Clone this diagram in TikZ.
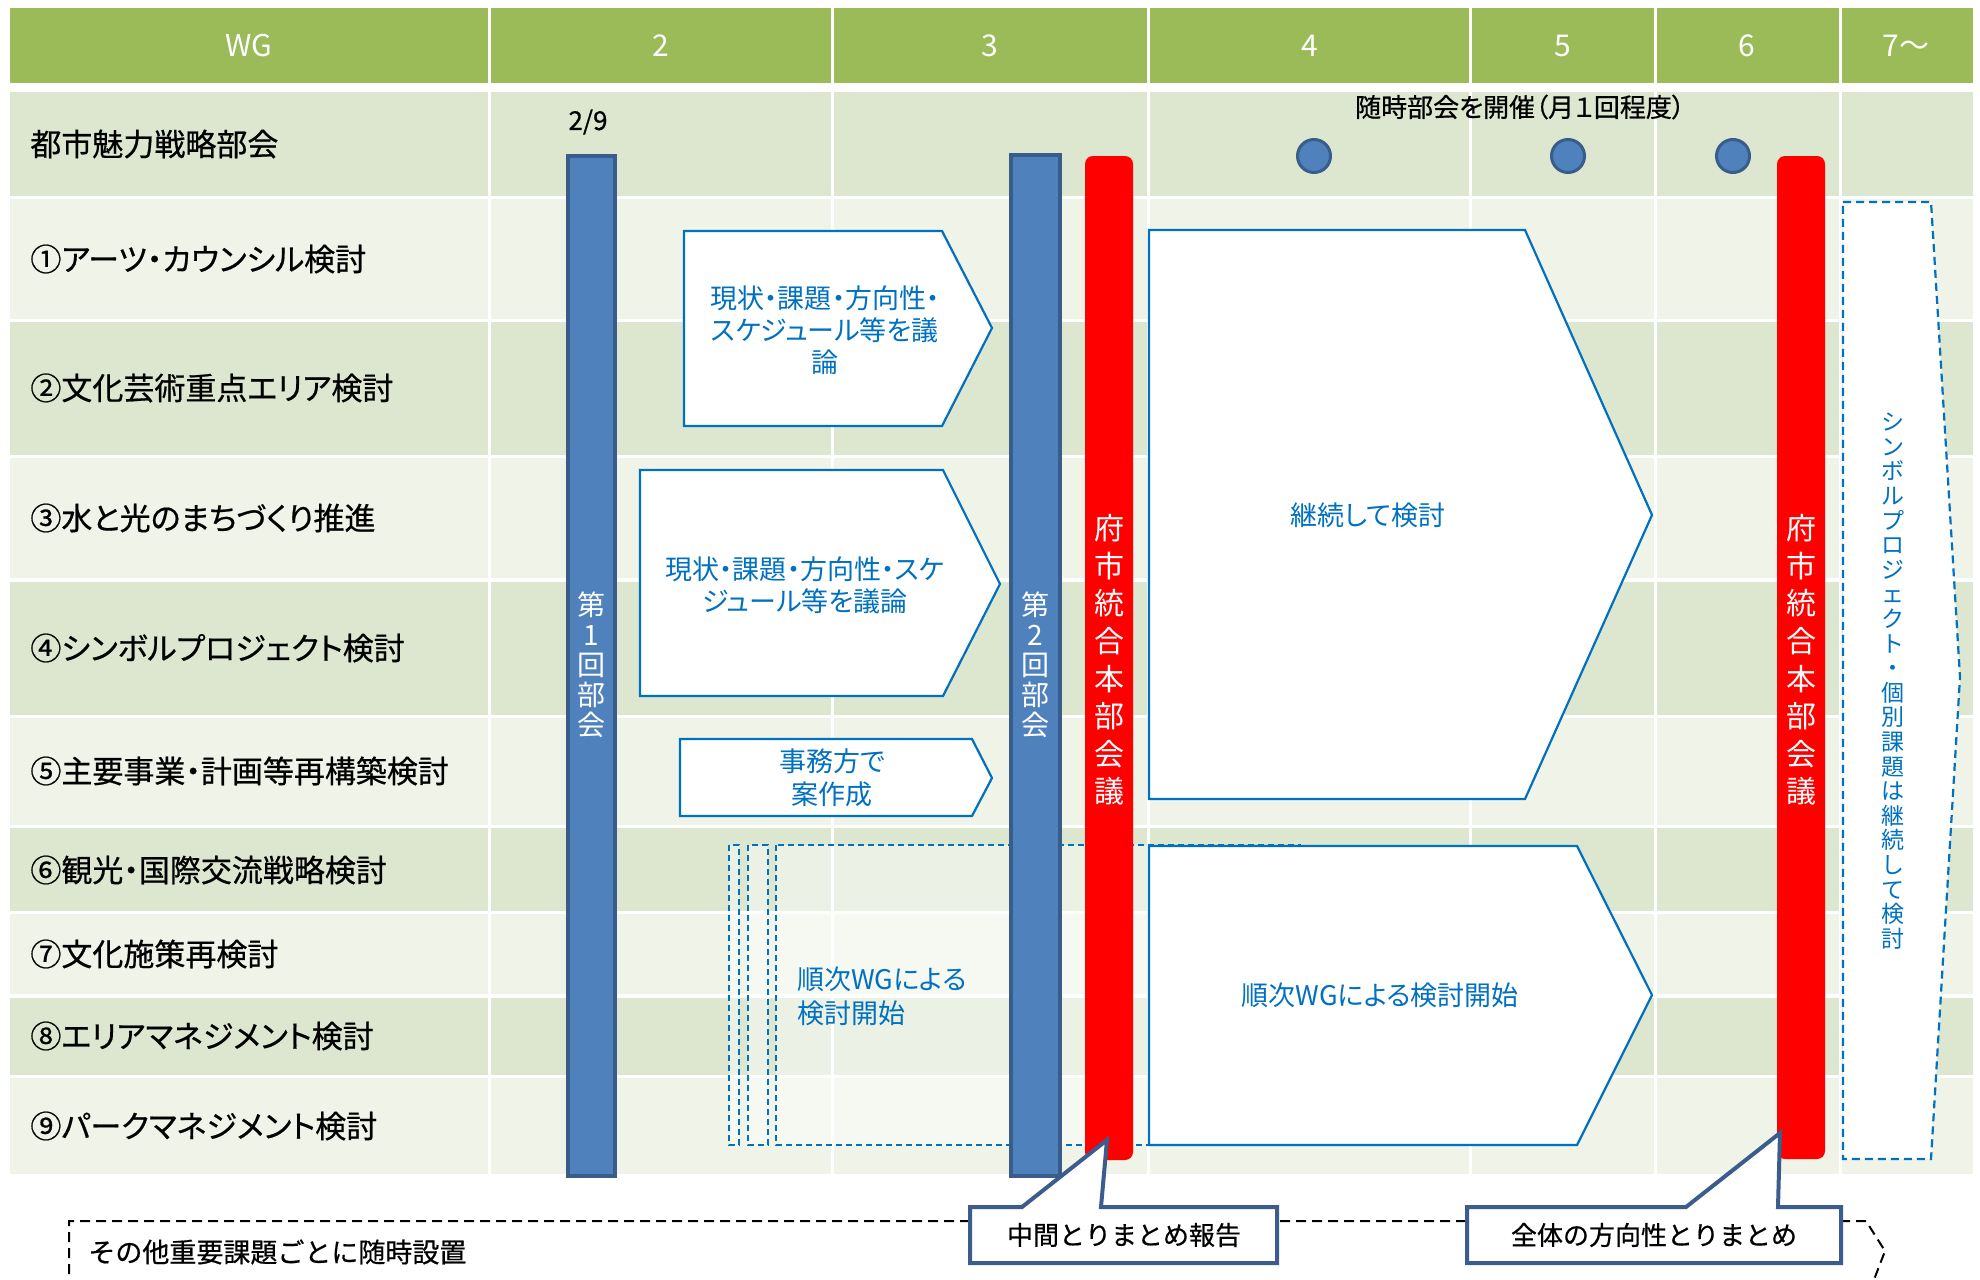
\documentclass[tikz,border=0pt]{standalone}
\usepackage{fontspec}
\setmainfont{Noto Sans CJK JP}
\newfontfamily\jp{Noto Sans CJK JP}
\newfontfamily\jpp[RawFeature=+palt]{Noto Sans CJK JP}
\newfontfamily\jpb[RawFeature=+palt,FakeBold=0.6]{Noto Sans CJK JP}
\newfontfamily\jpbn[FakeBold=0.6]{Noto Sans CJK JP}
\definecolor{hdrgreen}{HTML}{9BBB59}
\definecolor{rowdark}{RGB}{221,231,208}
\definecolor{rowlight}{RGB}{239,243,232}
\definecolor{barfill}{HTML}{4F81BD}
\definecolor{barline}{HTML}{385D8A}
\definecolor{arrowblue}{HTML}{0070C0}
\definecolor{callline}{HTML}{3B5C8C}
\tikzset{
  hdr/.style={text=white, inner sep=0pt, font={\jp\fontsize{15}{18}\selectfont}},
  rowlbl/.style={anchor=west, inner sep=0pt, text=black, font={\jpb\fontsize{15.5}{18}\selectfont}},
  small/.style={inner sep=0pt, text=black, font={\jpb\fontsize{13}{16}\selectfont}},
  chev/.style={draw=arrowblue, fill=white, line width=1.1pt, line join=miter},
  atext/.style={inner sep=0pt, text=arrowblue, align=center, font={\jpp\fontsize{13.5}{16}\selectfont\lineskiplimit=-8pt}},
  wgdash/.style={draw=arrowblue, dash pattern=on 3pt off 2pt, line width=1.1pt, fill=white, fill opacity=0.45},
  fdash/.style={draw=arrowblue, dash pattern=on 4pt off 2.5pt, line width=1.1pt, fill=white},
  bluebar/.style={draw=barline, fill=barfill, line width=2pt},
  redbar/.style={fill=red, rounded corners=4pt},
  vtext/.style={inner sep=0pt, text=white, align=center},
  dotc/.style={circle, draw=barline, fill=barfill, line width=1.5pt, minimum size=16.5pt, inner sep=0pt},
  callout/.style={draw=callline, fill=white, line width=2pt, line join=miter},
  ctext/.style={inner sep=0pt, text=black, font={\jpbn\fontsize{13}{16}\selectfont}},
  otherdash/.style={draw=black, dash pattern=on 5pt off 3pt, line width=1pt}
}
\begin{document}
\begin{tikzpicture}[x=0.5pt,y=-0.5pt]
\useasboundingbox (0,0) rectangle (1980,1279);
% table background
\fill[hdrgreen] (10,8) rectangle (1973,83);
\foreach \yT/\yB/\cC in {92/196/rowdark, 199/319/rowlight, 322/455/rowdark, 458/578/rowlight, 582/715/rowdark, 718/825/rowlight, 828/911/rowdark, 914/994/rowlight, 998/1075/rowdark, 1078/1174/rowlight}
  \fill[\cC] (10,\yT) rectangle (1973,\yB);
\foreach \xx in {489.5,832.5,1148.5,1470.5,1655.5,1840.5}
  \draw[white, line width=1.5pt] (\xx,4) -- (\xx,1176);
% header labels
\node[hdr] (h0) at (249,46) {WG};
\node[hdr] (h2) at (661,46) {2};
\node[hdr] (h3) at (990,46) {3};
\node[hdr] (h4) at (1310,46) {4};
\node[hdr] (h5) at (1563,46) {5};
\node[hdr] (h6) at (1747,46) {6};
\node[hdr] (h7) at (1906,46) {7～};
% row labels
\node[rowlbl] (l0) at (30,144) {都市魅力戦略部会};
\node[rowlbl] (l1) at (30,259) {①アーツ・カウンシル検討};
\node[rowlbl] (l2) at (30,388) {②文化芸術重点エリア検討};
\node[rowlbl] (l3) at (30,518) {③水と光のまちづくり推進};
\node[rowlbl] (l4) at (30,648) {④シンボルプロジェクト検討};
\node[rowlbl] (l5) at (30,771) {⑤主要事業・計画等再構築検討};
\node[rowlbl] (l6) at (30,870) {⑥観光・国際交流戦略検討};
\node[rowlbl] (l7) at (30,954) {⑦文化施策再検討};
\node[rowlbl] (l8) at (30,1036) {⑧エリアマネジメント検討};
\node[rowlbl] (l9) at (30,1126) {⑨パークマネジメント検討};
% top notes
\node[small] (d29) at (588,122) {2/9};
\node[small] (zuiji) at (1520,107) {随時部会を開催（月１回程度）};
% dashed WG boxes
\filldraw[wgdash] (729,845) rectangle (739,1145);
\filldraw[wgdash] (748,845) rectangle (768,1145);
\filldraw[wgdash] (776,845) rectangle (1300,1145);
\node[atext, align=left, anchor=west, font={\jpp\fontsize{13.5}{17}\selectfont}] (wgt) at (797,996) {順次WGによる\\検討開始};
% chevron arrows
\draw[chev] (684,231) -- (942,231) -- (992,328) -- (942,426) -- (684,426) -- cycle;
\node[atext] (ta) at (825,330) {現状・課題・方向性・\\スケジュール等を議\\論};
\draw[chev] (640,470) -- (943,470) -- (1000,584) -- (943,696) -- (640,696) -- cycle;
\node[atext] (tb) at (805,585) {現状・課題・方向性・スケ\\ジュール等を議論};
\draw[chev] (680,739) -- (972,739) -- (992,778) -- (972,816) -- (680,816) -- cycle;
\node[atext, font={\jpp\fontsize{13.5}{16.5}\selectfont}] (tc) at (832,778) {事務方で\\案作成};
\draw[chev] (1149,230) -- (1525,230) -- (1652,515) -- (1525,799) -- (1149,799) -- cycle;
\node[atext] (td) at (1368,515) {継続して検討};
\draw[chev] (1149,846) -- (1577,846) -- (1652,995) -- (1577,1145) -- (1149,1145) -- cycle;
\node[atext] (te) at (1380,995) {順次WGによる検討開始};
% right dashed arrow
\filldraw[fdash] (1843,202) -- (1931,202) -- (1960,677) -- (1931,1159) -- (1843,1159) -- cycle;
\node[vtext, text=arrowblue, font={\jp\fontsize{11.5}{12.3}\selectfont\lineskiplimit=-8pt}] (ft) at (1893,681)
  {シ\\ン\\ボ\\ル\\プ\\ロ\\ジ\\ェ\\ク\\ト\\・\\個\\別\\課\\題\\は\\継\\続\\し\\て\\検\\討};
% bars
\draw[bluebar] (568,156) rectangle (615,1176);
\node[vtext, font={\jp\fontsize{14}{15}\selectfont\lineskiplimit=-8pt}] (b1) at (591.5,665) {第\\1\\回\\部\\会};
\draw[bluebar] (1011,155) rectangle (1060,1176);
\node[vtext, font={\jp\fontsize{14}{15}\selectfont\lineskiplimit=-8pt}] (b2) at (1035.5,665) {第\\2\\回\\部\\会};
\fill[redbar] (1085,156) rectangle (1133,1160);
\node[vtext, font={\jp\fontsize{15}{18.8}\selectfont\lineskiplimit=-8pt}] (r1) at (1109,660) {府\\市\\統\\合\\本\\部\\会\\議};
\fill[redbar] (1777,156) rectangle (1825,1159);
\node[vtext, font={\jp\fontsize{15}{18.8}\selectfont\lineskiplimit=-8pt}] (r2) at (1801,660) {府\\市\\統\\合\\本\\部\\会\\議};
% dots
\node[dotc] (d1) at (1314,156) {};
\node[dotc] (d2) at (1568,156) {};
\node[dotc] (d3) at (1733,156) {};
% other dashed frame
\draw[otherdash] (69,1290) -- (69,1221) -- (1866,1221) -- (1885,1251) -- (1870,1290);
\node[small, anchor=west, font={\jpbn\fontsize{13.5}{16}\selectfont}] (oth) at (88,1252) {その他重要課題ごとに随時設置};
% callouts
\draw[callout] (970,1207) -- (1022,1207) -- (1107,1140) -- (1101,1207) -- (1277,1207) -- (1277,1263) -- (970,1263) -- cycle;
\node[ctext] (c1) at (1124,1235) {中間とりまとめ報告};
\draw[callout] (1467,1207) -- (1686,1207) -- (1780,1133) -- (1778,1207) -- (1841,1207) -- (1841,1263) -- (1467,1263) -- cycle;
\node[ctext] (c2) at (1654,1235) {全体の方向性とりまとめ};
\end{tikzpicture}
\end{document}
